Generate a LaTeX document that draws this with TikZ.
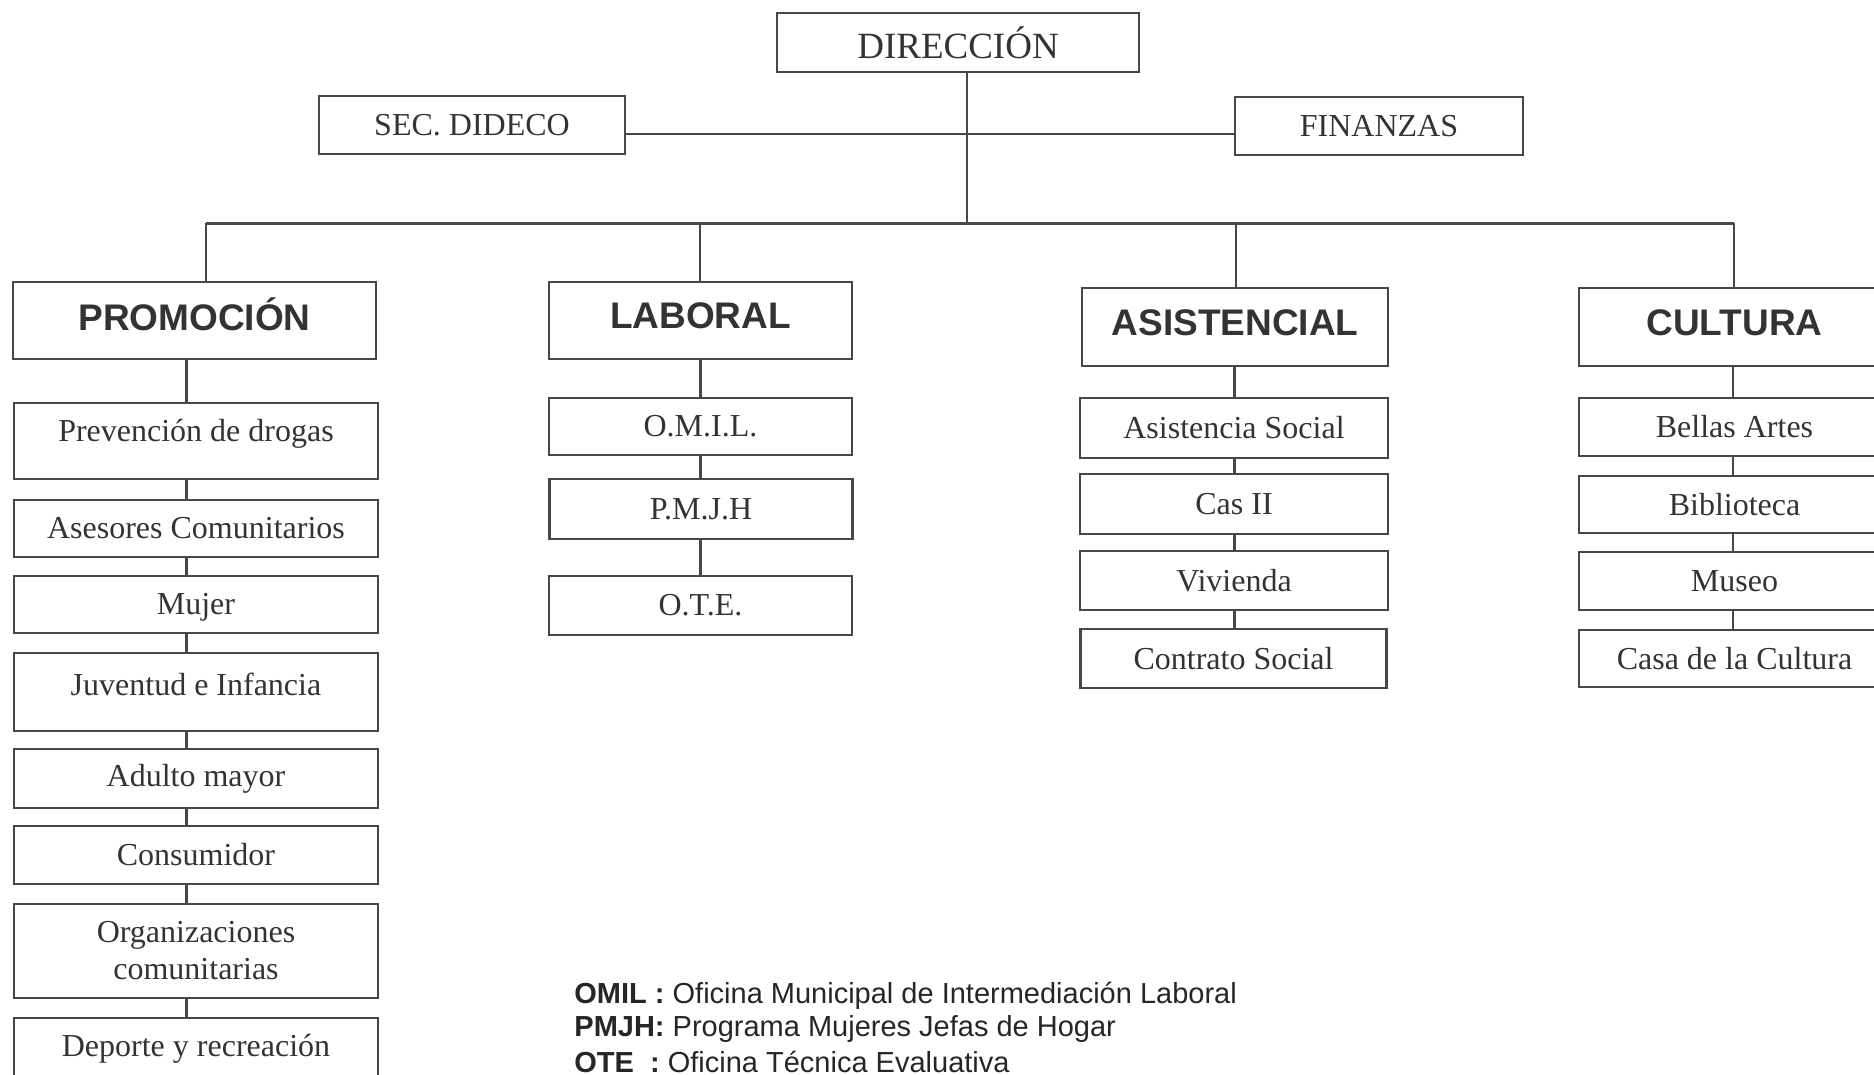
\documentclass[tikz,border=0pt]{standalone}
\usepackage{fontspec}
\setmainfont{Liberation Serif}
\newfontfamily\hdr{Liberation Sans}
\definecolor{lc}{HTML}{474747}
\definecolor{tc}{HTML}{333333}
\begin{document}
\begin{tikzpicture}[x=0.5pt,y=-0.5pt,
  box/.style={draw=lc, line width=1.2pt, inner sep=0pt, text=tc, font=\fontsize{16}{19}\selectfont, align=center},
  txt/.style={inner sep=0pt, text=tc, font=\fontsize{16}{19}\selectfont, align=center},
  htxt/.style={inner sep=0pt, text=tc, font=\hdr\bfseries\fontsize{18.5}{22}\selectfont},
  leg/.style={inner sep=0pt, anchor=west, text=black!85, font=\hdr\fontsize{14.5}{17}\selectfont},
  wire/.style={draw=lc, line width=1.2pt}]
\useasboundingbox (0,0) rectangle (1874,1075);
\clip (0,0) rectangle (1874,1075);
% top
\node[box, minimum width=181pt, minimum height=29.5pt, font=\fontsize{18.5}{22}\selectfont] (dir) at (958,42.5) {DIRECCIÓN};
\node[box, minimum width=153pt, minimum height=29pt] (sec) at (472,125) {SEC. DIDECO};
\node[box, minimum width=144pt, minimum height=29pt] (fin) at (1379,126) {FINANZAS};
\coordinate (trunk) at (967,134);
\coordinate (bL) at (206,223.5);
\coordinate (bR) at (1734,223.5);
\draw[wire] (dir.south -| trunk) -- (trunk |- bL);
\draw[wire] (sec.east |- trunk) -- (fin.west |- trunk);
\draw[wire] (bL) -- (bR);
% heads
\node[box, minimum width=181.5pt, minimum height=38.5pt] (prom) at (194.5,320.5) {};
\node[htxt] (promt) at (194.5,314) {PROMOCIÓN};
\node[box, minimum width=151.5pt, minimum height=38.5pt] (lab) at (700.5,320.5) {};
\node[htxt] (labt) at (700.5,316) {LABORAL};
\node[box, minimum width=153pt, minimum height=39pt] (asi) at (1235,327) {};
\node[htxt] (asit) at (1235,323) {ASISTENCIAL};
\node[box, minimum width=155.5pt, minimum height=39pt] (cul) at (1734.5,327) {};
\node[htxt] (cult) at (1734.5,323) {CULTURA};
\coordinate (dL) at (700,223.5);
\coordinate (dA) at (1236,223.5);
\draw[wire] (bL) -- (bL |- prom.north);
\draw[wire] (dL) -- (dL |- lab.north);
\draw[wire] (dA) -- (dA |- asi.north);
\draw[wire] (bR) -- (bR |- cul.north);
% promocion
\node[box, minimum width=182pt, minimum height=38pt] (prev) at (196,441) {};
\node[txt] (prevt) at (196,434) {Prevención de drogas};
\node[box, minimum width=182pt, minimum height=28.5pt] (ases) at (196,528.5) {Asesores Comunitarios};
\node[box, minimum width=182pt, minimum height=28.5pt] (muj) at (196,604.5) {};
\node[txt] (mujt) at (196,607) {Mujer};
\node[box, minimum width=182pt, minimum height=39pt] (juv) at (196,692) {};
\node[txt] (juvt) at (196,684) {Juventud e Infancia};
\node[box, minimum width=182pt, minimum height=29.5pt] (adu) at (196,778.5) {Adulto mayor};
\node[box, minimum width=182pt, minimum height=29pt] (con) at (196,855) {Consumidor};
\node[box, minimum width=182pt, minimum height=47pt, font=\fontsize{16}{18.5}\selectfont] (org) at (196,951) {Organizaciones\\comunitarias};
\node[box, minimum width=182pt, minimum height=41pt] (dep) at (196,1059) {};
\node[txt] (dept) at (196,1049) {Deporte y recreación};
\coordinate (pl) at (186.5,0);
\foreach \a/\b in {prom/prev,prev/ases,ases/muj,muj/juv,juv/adu,adu/con,con/org,org/dep}
  \draw[wire] (\a.south -| pl) -- (\b.north -| pl);
% laboral
\node[box, minimum width=151.5pt, minimum height=28.5pt] (omil) at (700.5,426.5) {O.M.I.L.};
\node[box, minimum width=151.5pt, minimum height=30pt] (pmjh) at (701,509) {P.M.J.H};
\node[box, minimum width=151.5pt, minimum height=29.5pt] (ote) at (700.5,605.5) {O.T.E.};
\coordinate (ll) at (700.5,0);
\foreach \a/\b in {lab/omil,omil/pmjh,pmjh/ote}
  \draw[wire] (\a.south -| ll) -- (\b.north -| ll);
% asistencial
\node[box, minimum width=154pt, minimum height=30pt] (asoc) at (1234,428) {Asistencia Social};
\node[box, minimum width=154pt, minimum height=29.75pt] (cas) at (1234,504) {Cas II};
\node[box, minimum width=154pt, minimum height=29.5pt] (viv) at (1234,580.5) {Vivienda};
\node[box, minimum width=153pt, minimum height=29.5pt] (cont) at (1233.5,658.5) {Contrato Social};
\coordinate (al) at (1234.6,0);
\foreach \a/\b in {asi/asoc,asoc/cas,cas/viv,viv/cont}
  \draw[wire] (\a.south -| al) -- (\b.north -| al);
% cultura
\node[box, minimum width=155.5pt, minimum height=29pt] (bel) at (1734.5,427) {Bellas Artes};
\node[box, minimum width=155.5pt, minimum height=28.5pt] (bib) at (1734.5,504.5) {Biblioteca};
\node[box, minimum width=155.5pt, minimum height=29pt] (mus) at (1734.5,581) {Museo};
\node[box, minimum width=155.5pt, minimum height=28.5pt] (casa) at (1734.5,658.5) {Casa de la Cultura};
\coordinate (cl) at (1733,0);
\foreach \a/\b in {cul/bel,bel/bib,bib/mus,mus/casa}
  \draw[wire] (\a.south -| cl) -- (\b.north -| cl);
% legend
\node[leg] (l1) at (574,996) {{\bfseries OMIL :} Oficina Municipal de Intermediación Laboral};
\node[leg] (l2) at (574,1029) {{\bfseries PMJH:} Programa Mujeres Jefas de Hogar};
\node[leg] (l3) at (574,1062) {{\bfseries OTE\ \ :} Oficina Técnica Evaluativa};
\end{tikzpicture}
\end{document}
